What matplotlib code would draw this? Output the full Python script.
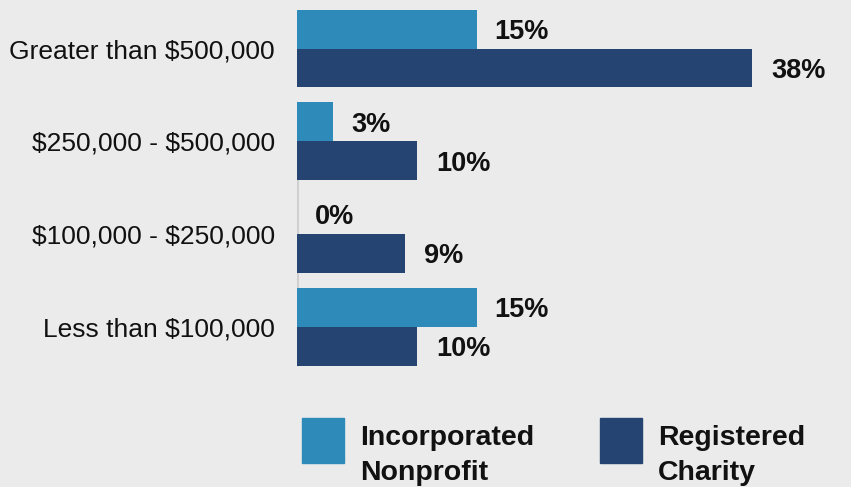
import matplotlib
matplotlib.use("Agg")
import matplotlib.pyplot as plt
from matplotlib.patches import Rectangle
import numpy as np

plt.rcParams["text.parse_math"] = False

categories = ["Greater than $500,000", "$250,000 - $500,000",
              "$100,000 - $250,000", "Less than $100,000"]
series_names = ["Incorporated\nNonprofit", "Registered\nCharity"]
nonprofit = [15, 3, 0, 15]
charity = [38, 10, 9, 10]

bg = "#ebebeb"
c_light = "#2e8ab9"
c_dark = "#254472"
font = "Liberation Sans"

W, H = 851, 487
fig = plt.figure(figsize=(W / 100, H / 100), dpi=100, facecolor=bg)

# axes area in pixels: left edge at x=297, groups centred 92.8 px apart
left_px, right_px = 297, 849
top_px, bot_px = 2.1, 373.4
ax = fig.add_axes([left_px / W, 1 - bot_px / H,
                   (right_px - left_px) / W, (bot_px - top_px) / H])
ax.set_facecolor(bg)
px_per_unit = 11.97
ax.set_xlim(0, (right_px - left_px) / px_per_unit)
ax.set_ylim(3.5, -0.5)

y = np.arange(len(categories))
h = 0.42
ax.barh(y - h / 2, nonprofit, height=h, color=c_light, zorder=3)
ax.barh(y + h / 2, charity, height=h, color=c_dark, zorder=3)

# value labels
for yi, v in zip(y - h / 2, nonprofit):
    ax.text(v + 1.5, yi + 0.03, f"{v}%", va="center", ha="left",
            fontsize=19.5, fontweight="bold", family=font, color="#111111")
for yi, v in zip(y + h / 2, charity):
    ax.text(v + 1.6, yi + 0.03, f"{v}%", va="center", ha="left",
            fontsize=19.5, fontweight="bold", family=font, color="#111111")

# thin grey axis line
ax.plot([0, 0], [1 - h, 3 + h], color="#cfcfcf", lw=2.2, zorder=2,
        solid_capstyle="butt")

ax.set_yticks(y)
ax.set_yticklabels(categories, fontsize=19, family=font, color="#111111")
ax.tick_params(axis="y", length=0, pad=16)
ax.set_xticks([])
for s in ax.spines.values():
    s.set_visible(False)


# legend: colour square with a two-line bold label beside it
def legend_item(x0, color, label):
    fig.add_artist(Rectangle((x0 / W, 1 - 463 / H), 42 / W, 45 / H,
                             transform=fig.transFigure, color=color))
    fig.text((x0 + 58) / W, 1 - 486 / H, label, ha="left", va="bottom",
             fontsize=20.5, fontweight="bold", family=font, color="#111111",
             linespacing=1.45)


legend_item(302, c_light, series_names[0])
legend_item(600, c_dark, series_names[1])

fig.savefig("out.png", dpi=100, facecolor=bg)
